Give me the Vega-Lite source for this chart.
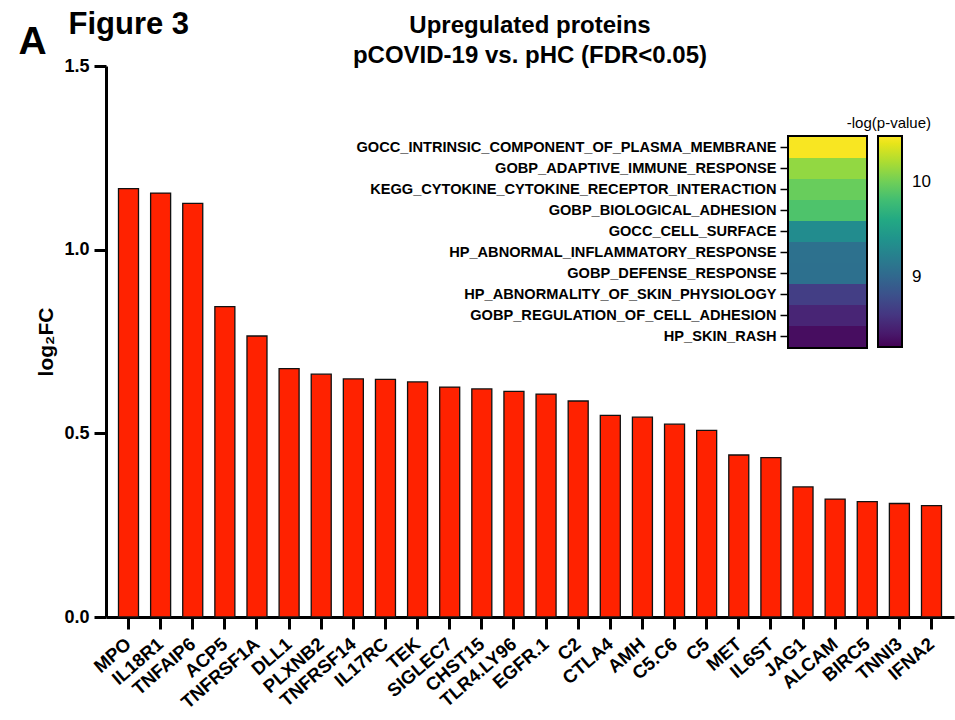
{
  "$schema": "https://vega.github.io/schema/vega-lite/v6.json",
  "width": 848,
  "height": 551,
  "autosize": {"type": "none"},
  "padding": {"left": 106, "top": 66, "right": 1, "bottom": 103},
  "background": "white",
  "config": {
    "font": "Liberation Sans",
    "view": {"stroke": null},
    "axis": {"grid": false, "domainColor": "black", "tickColor": "black", "labelColor": "black", "titleColor": "black"}
  },
  "title": {
    "text": ["Upregulated proteins", "pCOVID-19 vs. pHC (FDR<0.05)"],
    "anchor": "middle",
    "frame": "group",
    "fontSize": 24,
    "fontWeight": "bold",
    "lineHeight": 30,
    "offset": -60,
    "color": "black"
  },
  "layer": [
    {
      "data": {
        "values": [
          {"gene": "MPO", "log2FC": 1.166},
          {"gene": "IL18R1", "log2FC": 1.154},
          {"gene": "TNFAIP6", "log2FC": 1.126},
          {"gene": "ACP5", "log2FC": 0.845},
          {"gene": "TNFRSF1A", "log2FC": 0.765},
          {"gene": "DLL1", "log2FC": 0.676},
          {"gene": "PLXNB2", "log2FC": 0.661},
          {"gene": "TNFRSF14", "log2FC": 0.648},
          {"gene": "IL17RC", "log2FC": 0.647},
          {"gene": "TEK", "log2FC": 0.640},
          {"gene": "SIGLEC7", "log2FC": 0.626},
          {"gene": "CHST15", "log2FC": 0.621},
          {"gene": "TLR4.LY96", "log2FC": 0.614},
          {"gene": "EGFR.1", "log2FC": 0.607},
          {"gene": "C2", "log2FC": 0.588},
          {"gene": "CTLA4", "log2FC": 0.549},
          {"gene": "AMH", "log2FC": 0.544},
          {"gene": "C5.C6", "log2FC": 0.525},
          {"gene": "C5", "log2FC": 0.508},
          {"gene": "MET", "log2FC": 0.441},
          {"gene": "IL6ST", "log2FC": 0.434},
          {"gene": "JAG1", "log2FC": 0.354},
          {"gene": "ALCAM", "log2FC": 0.321},
          {"gene": "BIRC5", "log2FC": 0.314},
          {"gene": "TNNI3", "log2FC": 0.309},
          {"gene": "IFNA2", "log2FC": 0.303}
        ]
      },
      "mark": {"type": "bar", "color": "#ff2200", "stroke": "#111111", "strokeWidth": 1.3},
      "encoding": {
        "x": {
          "field": "gene",
          "type": "nominal",
          "sort": null,
          "scale": {"paddingInner": 0.377, "paddingOuter": 0.389},
          "axis": {
            "title": "A",
            "titleX": -74,
            "titleY": -564,
            "titleAngle": 0,
            "titleAlign": "center",
            "titleBaseline": "alphabetic",
            "titleFontSize": 39,
            "titleFontWeight": "bold",
            "labelAngle": -41,
            "labelAlign": "right",
            "labelBaseline": "middle",
            "labelFontSize": 18.5,
            "labelFontWeight": "bold",
            "labelPadding": 12,
            "tickSize": 12,
            "tickWidth": 3,
            "domainWidth": 3
          }
        },
        "y": {
          "field": "log2FC",
          "type": "quantitative",
          "scale": {"domain": [0, 1.5]},
          "axis": {
            "title": "log₂FC",
            "titleFontSize": 21,
            "titleFontWeight": "bold",
            "titlePadding": 7,
            "values": [0, 0.5, 1, 1.5],
            "format": ".1f",
            "labelFontSize": 18,
            "labelFontWeight": "bold",
            "labelPadding": 5,
            "tickSize": 12,
            "tickWidth": 3,
            "domainWidth": 3
          }
        }
      }
    },
    {
      "data": {
        "values": [
          {"term": "GOCC_INTRINSIC_COMPONENT_OF_PLASMA_MEMBRANE", "neglogp": 10.46},
          {"term": "GOBP_ADAPTIVE_IMMUNE_RESPONSE", "neglogp": 10.12},
          {"term": "KEGG_CYTOKINE_CYTOKINE_RECEPTOR_INTERACTION", "neglogp": 9.97},
          {"term": "GOBP_BIOLOGICAL_ADHESION", "neglogp": 9.86},
          {"term": "GOCC_CELL_SURFACE", "neglogp": 9.33},
          {"term": "HP_ABNORMAL_INFLAMMATORY_RESPONSE", "neglogp": 9.08},
          {"term": "GOBP_DEFENSE_RESPONSE", "neglogp": 9.07},
          {"term": "HP_ABNORMALITY_OF_SKIN_PHYSIOLOGY", "neglogp": 8.66},
          {"term": "GOBP_REGULATION_OF_CELL_ADHESION", "neglogp": 8.48},
          {"term": "HP_SKIN_RASH", "neglogp": 8.33}
        ]
      },
      "encoding": {
        "x": {
          "datum": "c",
          "type": "nominal",
          "scale": {"type": "band", "domain": ["c"], "range": [683, 760], "paddingInner": 0, "paddingOuter": 0},
          "axis": {
            "orient": "top",
            "title": "Figure 3",
            "titleX": -38,
            "titleY": -33,
            "titleAlign": "left",
            "titleBaseline": "alphabetic",
            "titleFontSize": 31,
            "titleFontWeight": "bold",
            "labels": false,
            "ticks": false,
            "domain": false
          }
        },
        "y": {
          "field": "term",
          "type": "nominal",
          "sort": null,
          "scale": {"type": "band", "range": [71, 281], "paddingInner": 0, "paddingOuter": 0},
          "axis": {
            "orient": "left",
            "offset": -682,
            "title": null,
            "domain": false,
            "tickSize": 8,
            "tickWidth": 1.5,
            "labelPadding": 4,
            "labelLimit": 0,
            "labelFontSize": 14.6,
            "labelFontWeight": "bold"
          }
        }
      },
      "layer": [
        {"mark": {"type": "rect", "color": "black", "stroke": "black", "strokeWidth": 4}},
        {
          "mark": {"type": "rect"},
          "encoding": {
            "color": {
              "field": "neglogp",
              "type": "quantitative",
              "scale": {"scheme": "viridis", "domain": [8.26, 10.48]},
              "legend": {
                "title": "-log(p-value)",
                "orient": "none",
                "legendX": 741,
                "legendY": 50,
                "direction": "vertical",
                "gradientLength": 211,
                "gradientThickness": 24,
                "gradientStrokeColor": "black",
                "gradientStrokeWidth": 2,
                "values": [9, 10],
                "format": "d",
                "labelFontSize": 17,
                "labelOffset": 10,
                "labelColor": "black",
                "titleFontSize": 15,
                "titleFontWeight": "normal",
                "titleColor": "black",
                "titleAnchor": "end",
                "titleAlign": "right",
                "titleLimit": 0,
                "titlePadding": 5
              }
            }
          }
        }
      ]
    }
  ],
  "resolve": {
    "scale": {"x": "independent", "y": "independent"},
    "axis": {"x": "independent", "y": "independent"}
  }
}
